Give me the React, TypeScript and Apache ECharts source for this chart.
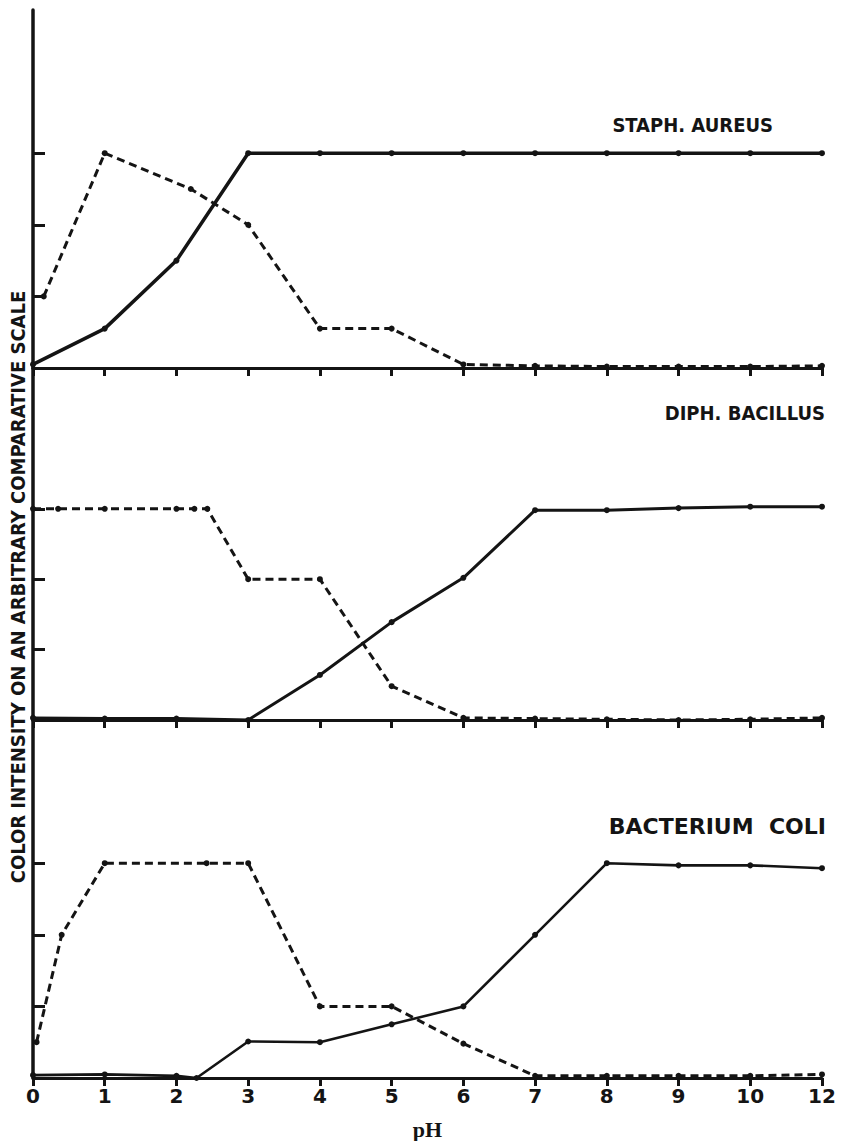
import React, { useEffect, useRef } from 'react';
import * as echarts from 'echarts';

// Tick labels of the pH axis (last tick is labelled 12 but sits one step after 10)
const pHTickLabels = ['0', '1', '2', '3', '4', '5', '6', '7', '8', '9', '10', '12'];
const yTickValues = [1, 2, 3];

const panelTitles = ['STAPH. AUREUS', 'DIPH. BACILLUS', 'BACTERIUM  COLI'];

// STAPH. AUREUS
const staphSolidPH = [0, 1, 2, 3, 4, 5, 6, 7, 8, 9, 10, 12];
const staphSolidVal = [0.05, 0.55, 1.5, 3.0, 3.0, 3.0, 3.0, 3.0, 3.0, 3.0, 3.0, 3.0];
const staphDashedPH = [0.15, 1, 2.2, 3, 4, 5, 6, 7, 8, 9, 10, 12];
const staphDashedVal = [1.0, 3.0, 2.5, 2.0, 0.55, 0.55, 0.05, 0.03, 0.02, 0.02, 0.02, 0.03];

// DIPH. BACILLUS
const diphSolidPH = [0, 1, 2, 3, 4, 5, 6, 7, 8, 9, 10, 12];
const diphSolidVal = [0.03, 0.02, 0.02, 0.0, 0.64, 1.39, 2.02, 2.98, 2.98, 3.01, 3.03, 3.03];
const diphDashedPH = [0, 0.35, 1, 2, 2.25, 2.43, 3, 4, 5, 6, 7, 8, 9, 10, 12];
const diphDashedVal = [3.0, 3.0, 3.0, 3.0, 3.0, 3.0, 2.0, 2.0, 0.48, 0.03, 0.02, 0.01, 0.0, 0.01, 0.03];

// BACTERIUM COLI
const coliSolidPH = [0, 1, 2, 2.28, 3, 4, 5, 6, 7, 8, 9, 10, 12];
const coliSolidVal = [0.04, 0.05, 0.03, 0.0, 0.51, 0.5, 0.75, 1.0, 2.0, 3.0, 2.97, 2.97, 2.93];
const coliDashedPH = [0.05, 0.4, 1, 2.42, 3, 4, 5, 6, 7, 8, 9, 10, 12];
const coliDashedVal = [0.5, 2.0, 3.0, 3.0, 3.0, 1.0, 1.0, 0.48, 0.03, 0.03, 0.03, 0.03, 0.05];

// axis is broken after 10: the "12" tick is one step after "10"
const toAxis = (pH: number) => (pH <= 10 ? pH : 10 + (pH - 10) / 2);
const pairs = (xs: number[], ys: number[]) => xs.map((x, i) => [toAxis(x), ys[i]]);

const INK = '#141414';

export default function App() {
  const ref = useRef<HTMLDivElement>(null);
  useEffect(() => {
    const chart = echarts.init(ref.current as HTMLDivElement, null, { renderer: 'svg' });
    const grids = [
      { left: 33, width: 789, top: 10, height: 358 },
      { left: 33, width: 789, top: 368, height: 352 },
      { left: 33, width: 789, top: 720, height: 362 },
    ];
    const xAxes = grids.map((_, i) => ({
      gridIndex: i,
      type: 'value',
      min: 0,
      max: 11,
      interval: 1,
      axisLine: { show: true, onZero: false, lineStyle: { color: INK, width: 3 } },
      axisTick: { show: true, inside: false, length: 8, lineStyle: { color: INK, width: 3 } },
      axisLabel: {
        show: i === 2,
        formatter: (v: number) => pHTickLabels[Math.round(v)] ?? '',
        color: INK,
        fontFamily: 'DejaVu Sans',
        fontWeight: 'bold',
        fontSize: 20,
        margin: 8,
      },
      splitLine: { show: false },
      name: i === 2 ? 'pH' : '',
      nameLocation: 'middle',
      nameGap: 40,
      nameTextStyle: { color: INK, fontFamily: 'Liberation Serif', fontWeight: 'bold', fontSize: 22 },
    }));
    const yAxes = grids.map((_, i) => ({
      gridIndex: i,
      type: 'value',
      min: 0,
      max: 5,
      interval: 1,
      axisLine: { show: true, onZero: false, lineStyle: { color: INK, width: 3.5 } },
      axisTick: { show: true, inside: true, length: 12, customValues: yTickValues, lineStyle: { color: INK, width: 3 } },
      axisLabel: { show: false },
      splitLine: { show: false },
    }));
    const mk = (name: string, g: number, xs: number[], ys: number[], dashed: boolean, width: number) => ({
      name,
      type: 'line',
      xAxisIndex: g,
      yAxisIndex: g,
      data: pairs(xs, ys),
      clip: false,
      symbol: 'circle',
      symbolSize: 6,
      itemStyle: { color: INK },
      lineStyle: { color: INK, width, type: dashed ? [8, 5] : 'solid' },
    });
    const series = [
      mk('Staph solid', 0, staphSolidPH, staphSolidVal, false, 3.5),
      mk('Staph dashed', 0, staphDashedPH, staphDashedVal, true, 3),
      mk('Diph solid', 1, diphSolidPH, diphSolidVal, false, 3),
      mk('Diph dashed', 1, diphDashedPH, diphDashedVal, true, 3),
      mk('Coli solid', 2, coliSolidPH, coliSolidVal, false, 2.6),
      mk('Coli dashed', 2, coliDashedPH, coliDashedVal, true, 3),
    ];
    const titleStyle = (text: string, size: number, family: string) => ({
      text,
      fill: INK,
      fontFamily: family,
      fontWeight: 'bold',
      fontSize: size,
      align: 'right',
      verticalAlign: 'middle',
    });
    chart.setOption({
      animation: false,
      backgroundColor: '#ffffff',
      grid: grids,
      xAxis: xAxes,
      yAxis: yAxes,
      series,
      graphic: [
        { type: 'text', x: 773, y: 125, style: titleStyle(panelTitles[0], 20, 'DejaVu Sans Condensed') },
        { type: 'text', x: 825, y: 413, style: titleStyle(panelTitles[1], 20, 'DejaVu Sans Condensed') },
        { type: 'text', x: 826, y: 826, style: titleStyle(panelTitles[2], 22, 'DejaVu Sans') },
        {
          type: 'text',
          x: 18,
          y: 587,
          rotation: Math.PI / 2,
          style: {
            text: 'COLOR INTENSITY ON AN ARBITRARY COMPARATIVE SCALE',
            fill: INK,
            fontFamily: 'DejaVu Sans Condensed',
            fontWeight: 'bold',
            fontSize: 20,
            align: 'center',
            verticalAlign: 'middle',
          },
        },
      ],
    });
    return () => chart.dispose();
  }, []);
  return (
    <div
      ref={ref}
      style={{ position: 'absolute', left: 0, top: 0, width: 843, height: 1141, background: '#fff' }}
    />
  );
}
